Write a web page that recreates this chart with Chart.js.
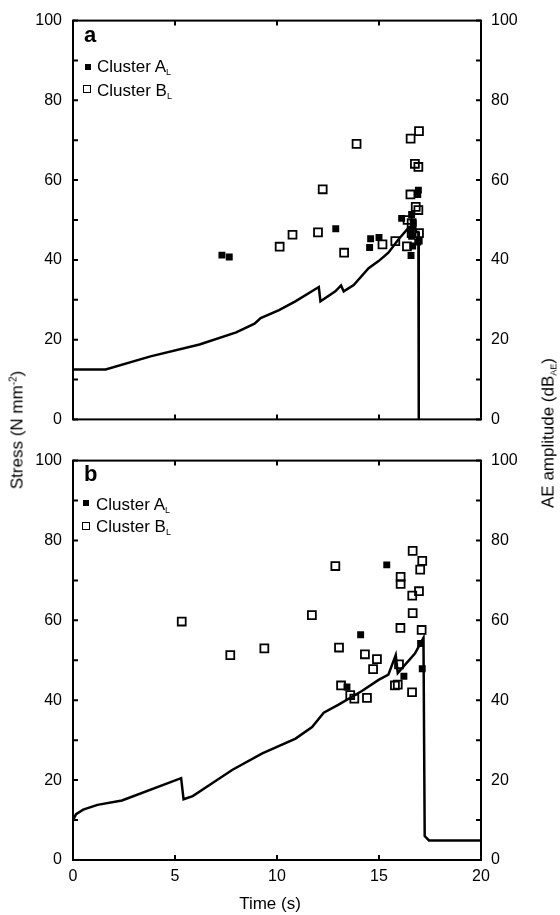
<!DOCTYPE html>
<html>
<head>
<meta charset="utf-8">
<script src="https://cdn.jsdelivr.net/npm/chart.js@4.4.1/dist/chart.umd.min.js"></script>
<style>
  html, body { margin:0; padding:0; background:#fff; }
  body { width:560px; height:915px; position:relative; overflow:hidden; font-family:"Liberation Sans", Arial, sans-serif; color:#000; }
  canvas { position:absolute; left:0; }
  .t { position:absolute; line-height:1; white-space:nowrap; }
  .lg { font-size:17px; }
  .lg sub { font-size:9px; vertical-align:-3px; }
  .panel { font-size:22px; font-weight:bold; }
  .mk { position:absolute; box-sizing:border-box; }
  .rot { position:absolute; white-space:nowrap; font-size:17px; line-height:1; transform:translate(-50%,-50%) rotate(-90deg); }
  .rot sup { font-size:10px; vertical-align:6px; }
  .rot sub { font-size:9px; vertical-align:-3px; }
</style>
</head>
<body>
<canvas id="c1" width="560" height="440" style="top:0px"></canvas>
<canvas id="c2" width="560" height="475" style="top:440px"></canvas>

<div class="t panel" style="left:84px;top:24px">a</div>
<div class="mk" style="left:85px;top:64px;width:6px;height:6px;background:#000"></div>
<div class="t lg" style="left:97px;top:58px">Cluster A<sub>L</sub></div>
<div class="mk" style="left:83px;top:85px;width:8px;height:8px;border:1.5px solid #000"></div>
<div class="t lg" style="left:97px;top:82px">Cluster B<sub>L</sub></div>

<div class="t panel" style="left:84px;top:463px">b</div>
<div class="mk" style="left:83px;top:500px;width:6px;height:6px;background:#000"></div>
<div class="t lg" style="left:96px;top:496px">Cluster A<sub>L</sub></div>
<div class="mk" style="left:82px;top:522px;width:8px;height:8px;border:1.5px solid #000"></div>
<div class="t lg" style="left:96px;top:518px">Cluster B<sub>L</sub></div>

<div class="rot" style="left:17px;top:430px">Stress (N mm<sup>-2</sup>)</div>
<div class="rot" style="left:549px;top:433px">AE amplitude (dB<sub>AE</sub>)</div>
<div class="t" style="left:270px;top:903px;font-size:17px;transform:translate(-50%,-50%)">Time (s)</div>

<script>
// ---------- Panel a ----------
const aLineTime   = [0, 1.6, 3.8, 6.2, 8.0, 8.9, 9.2, 10.1, 10.9, 12.05, 12.13, 12.86, 13.14, 13.27, 13.76, 14.49, 14.98, 15.46, 15.95, 16.44, 16.68, 16.85, 16.93, 16.95];
const aLineStress = [12.5, 12.5, 15.8, 18.8, 21.8, 24.0, 25.4, 27.4, 29.6, 33.2, 29.6, 32.1, 33.6, 32.1, 33.7, 37.9, 39.7, 41.8, 45.1, 48.0, 48.8, 47.0, 47.0, 0];

const aClusterATime = [7.30, 7.66, 12.88, 14.59, 14.54, 15.0, 16.11, 16.6, 16.93, 16.9, 16.6, 16.9, 16.57, 16.68, 16.97, 16.65, 16.55];
const aClusterAAmp  = [41.2, 40.7, 47.8, 45.3, 43.1, 45.6, 50.4, 51.4, 57.5, 56.4, 45.9, 44.5, 41.1, 49.2, 44.7, 43.5, 47.5];

const aClusterBTime = [10.13, 10.76, 12.01, 12.24, 13.29, 13.9, 15.17, 15.8, 16.55, 16.96, 16.76, 16.93, 16.54, 16.8, 16.93, 16.4, 16.6, 16.96, 16.37, 16.6];
const aClusterBAmp  = [43.3, 46.3, 46.9, 57.7, 41.8, 69.1, 43.9, 44.7, 70.4, 72.3, 64.1, 63.3, 56.4, 53.3, 52.5, 50.0, 49.2, 46.7, 43.4, 46.7];

// ---------- Panel b ----------
const bLineTime   = [0, 0.15, 0.5, 1.2, 2.4, 5.3, 5.42, 5.87, 6.84, 7.82, 9.28, 10.91, 11.72, 12.29, 13.02, 14.16, 14.98, 15.46, 15.82, 15.92, 16.76, 17.18, 17.24, 17.45, 20];
const bLineStress = [10.0, 11.5, 12.6, 13.8, 14.9, 20.5, 15.2, 16.0, 19.3, 22.6, 26.7, 30.4, 33.3, 36.9, 38.9, 42.3, 45.1, 46.4, 51.3, 46.8, 51.7, 55.6, 6.0, 4.9, 4.9];

const bClusterATime = [15.38, 14.1, 13.43, 16.22, 17.04, 17.12];
const bClusterAAmp  = [73.9, 56.4, 43.3, 46.0, 54.2, 47.9];

const bClusterBTime = [5.33, 7.71, 9.38, 11.71, 12.86, 13.04, 13.14, 13.59, 13.79, 14.41, 14.31, 14.9, 14.71, 15.78, 15.92, 15.98, 16.05, 16.06, 16.06, 16.65, 17.12, 17.02, 16.96, 16.63, 16.65, 17.09, 16.62];
const bClusterBAmp  = [59.7, 51.3, 53.0, 61.3, 73.6, 53.2, 43.7, 41.3, 40.4, 40.6, 51.5, 50.3, 47.8, 43.7, 43.9, 49.0, 58.1, 70.9, 69.1, 77.4, 74.9, 72.7, 67.3, 66.2, 61.8, 57.6, 42.0];

// axis ticks
const timeTicks = [0, 5, 10, 15, 20];
const valueLabels = [0, 20, 40, 60, 80, 100];

const FONT = { family: '"Liberation Sans", Arial, sans-serif', size: 16 };
const zip = (xs, ys) => xs.map((x, i) => ({ x: x, y: ys[i] }));

const framePlugin = {
  id: 'frame',
  afterDraw(chart) {
    const { ctx, chartArea: a, scales } = chart;
    const L = 5;
    ctx.save();
    ctx.strokeStyle = '#000';
    ctx.lineWidth = 2;
    ctx.beginPath();
    scales.y.ticks.forEach(t => {
      const py = scales.y.getPixelForValue(t.value);
      ctx.moveTo(a.left, py); ctx.lineTo(a.left + L, py);
    });
    scales.y2.ticks.forEach(t => {
      const py = scales.y2.getPixelForValue(t.value);
      ctx.moveTo(a.right, py); ctx.lineTo(a.right - L, py);
    });
    scales.x.ticks.forEach(t => {
      const px = scales.x.getPixelForValue(t.value);
      ctx.moveTo(px, a.bottom); ctx.lineTo(px, a.bottom - L);
      ctx.moveTo(px, a.top); ctx.lineTo(px, a.top + L);
    });
    ctx.stroke();
    ctx.strokeRect(a.left, a.top, a.right - a.left, a.bottom - a.top);
    ctx.restore();
  }
};

function makeChart(id, lineT, lineS, aT, aV, bT, bV, opts) {
  const yCommon = (pos, w, pad) => ({
    type: 'linear', position: pos, min: 0, max: 100,
    grid: { display: false, drawTicks: false }, border: { display: false },
    ticks: {
      stepSize: 10, padding: pad, color: '#000', font: FONT,
      callback: v => valueLabels.includes(v) ? String(v) : ''
    },
    afterFit: s => { s.width = w; }
  });
  return new Chart(document.getElementById(id), {
    type: 'scatter',
    data: {
      datasets: [
        { label: 'Stress', data: zip(lineT, lineS), showLine: true, borderColor: '#000', borderWidth: 2.5,
          pointRadius: 0, tension: 0, yAxisID: 'y', clip: 4 },
        { label: 'Cluster A', data: zip(aT, aV), pointStyle: 'rect', pointRadius: 4.9,
          backgroundColor: '#000', borderColor: '#000', borderWidth: 0, yAxisID: 'y2' },
        { label: 'Cluster B', data: zip(bT, bV), pointStyle: 'rect', pointRadius: 5.6,
          backgroundColor: 'rgba(0,0,0,0)', borderColor: '#000', borderWidth: 1.8, yAxisID: 'y2' }
      ]
    },
    options: {
      responsive: false, animation: false, devicePixelRatio: 1,
      layout: { padding: { top: opts.padTop, left: 0, right: 0, bottom: 0 } },
      plugins: { legend: { display: false }, tooltip: { enabled: false } },
      scales: {
        x: {
          type: 'linear', min: 0, max: 20,
          grid: { display: false, drawTicks: false }, border: { display: false },
          afterBuildTicks: s => { s.ticks = timeTicks.map(v => ({ value: v })); },
          ticks: { display: opts.showX, padding: 7, color: '#000', font: FONT, maxRotation: 0 },
          afterFit: s => { s.height = opts.xHeight; }
        },
        y: yCommon('left', 73, 11),
        y2: yCommon('right', 79, 10)
      }
    },
    plugins: [framePlugin]
  });
}

makeChart('c1', aLineTime, aLineStress, aClusterATime, aClusterAAmp, aClusterBTime, aClusterBAmp,
  { padTop: 17, xHeight: 17, showX: false });
makeChart('c2', bLineTime, bLineStress, bClusterATime, bClusterAAmp, bClusterBTime, bClusterBAmp,
  { padTop: 14, xHeight: 55, showX: true });
</script>
</body>
</html>
